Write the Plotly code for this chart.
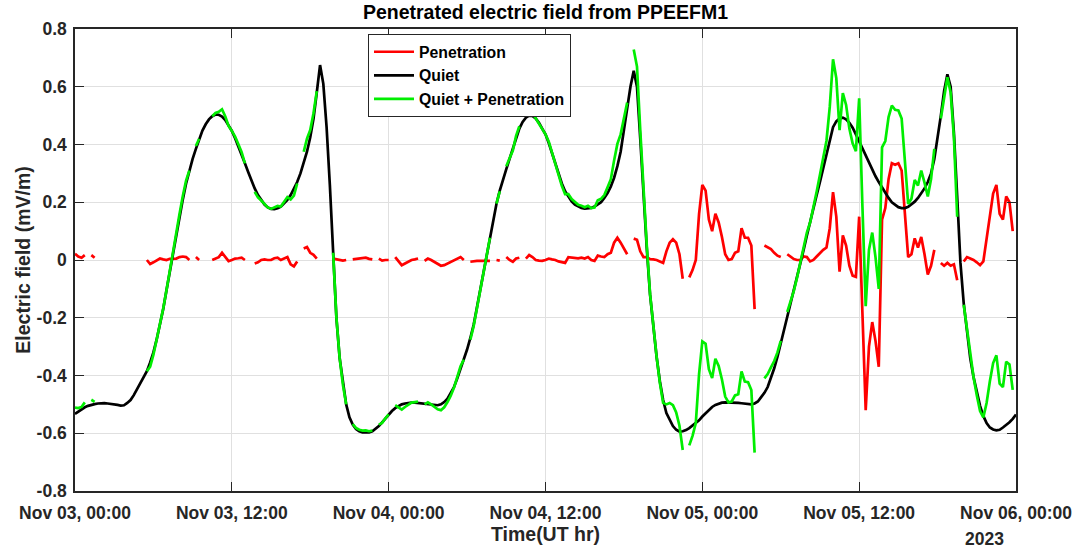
import numpy as np
import pandas as pd
import plotly.graph_objects as go

# ---------------- data ----------------
start_time = "2023-11-03 00:00"
step_hours = 0.25
# sampling grid in hours since start (0 ... 72 h)
hours = np.arange(0, 72 + step_hours / 2, step_hours)

# Quiet-time electric field (mV/m), one row = 2 hours
quiet = [
    -0.533, -0.525, -0.517, -0.510, -0.505, -0.501, -0.499, -0.497,
    -0.496, -0.496, -0.497, -0.498, -0.500, -0.502, -0.504, -0.503,
    -0.495, -0.485, -0.468, -0.448, -0.428, -0.408, -0.385, -0.355,
    -0.320, -0.275, -0.225, -0.170, -0.105, -0.040, 0.025, 0.090,
    0.150, 0.210, 0.265, 0.310, 0.350, 0.385, 0.420, 0.448,
    0.470, 0.487, 0.498, 0.504, 0.503, 0.497, 0.485, 0.468,
    0.447, 0.422, 0.395, 0.365, 0.335, 0.305, 0.275, 0.248,
    0.225, 0.206, 0.192, 0.182, 0.177, 0.176, 0.179, 0.185,
    0.195, 0.208, 0.225, 0.245, 0.270, 0.300, 0.335, 0.375,
    0.425, 0.490, 0.580, 0.675, 0.610, 0.460, 0.260, 0.020,
    -0.200, -0.340, -0.430, -0.500, -0.545, -0.570, -0.585, -0.593,
    -0.597, -0.598, -0.597, -0.593, -0.585, -0.575, -0.562, -0.548,
    -0.535, -0.523, -0.513, -0.505, -0.500, -0.497, -0.495, -0.494,
    -0.494, -0.495, -0.496, -0.497, -0.498, -0.500, -0.502, -0.503,
    -0.500, -0.492, -0.480, -0.462, -0.440, -0.410, -0.378, -0.345,
    -0.310, -0.270, -0.225, -0.165, -0.105, -0.040, 0.020, 0.080,
    0.140, 0.195, 0.240, 0.280, 0.315, 0.350, 0.385, 0.425,
    0.455, 0.478, 0.493, 0.500, 0.499, 0.490, 0.475, 0.455,
    0.435, 0.405, 0.370, 0.335, 0.298, 0.265, 0.238, 0.218,
    0.203, 0.192, 0.185, 0.180, 0.178, 0.178, 0.180, 0.185,
    0.192, 0.200, 0.215, 0.232, 0.255, 0.285, 0.325, 0.375,
    0.450, 0.525, 0.600, 0.655, 0.600, 0.420, 0.220, 0.040,
    -0.120, -0.235, -0.335, -0.420, -0.485, -0.530, -0.555, -0.575,
    -0.588, -0.594, -0.593, -0.589, -0.582, -0.574, -0.565, -0.555,
    -0.542, -0.530, -0.518, -0.509, -0.502, -0.497, -0.494, -0.493,
    -0.493, -0.493, -0.494, -0.495, -0.496, -0.498, -0.500, -0.500,
    -0.497, -0.490, -0.475, -0.460, -0.440, -0.410, -0.375, -0.335,
    -0.290, -0.245, -0.200, -0.155, -0.110, -0.060, -0.010, 0.035,
    0.085, 0.135, 0.180, 0.225, 0.270, 0.320, 0.370, 0.420,
    0.460, 0.480, 0.490, 0.493, 0.487, 0.475, 0.458, 0.435,
    0.410, 0.385, 0.360, 0.335, 0.310, 0.290, 0.270, 0.250,
    0.232, 0.215, 0.200, 0.190, 0.183, 0.180, 0.180, 0.184,
    0.192, 0.202, 0.215, 0.230, 0.248, 0.270, 0.300, 0.350,
    0.420, 0.500, 0.585, 0.643, 0.600, 0.440, 0.220, -0.010,
    -0.150, -0.250, -0.340, -0.405, -0.460, -0.505, -0.540, -0.565,
    -0.580, -0.587, -0.590, -0.588, -0.580, -0.572, -0.562, -0.550,
    -0.535,
]

# Penetration electric field (mV/m), None = data gap
penetration = [
    0.022, 0.012, 0.008, 0.017, None, 0.017, 0.008, None,
    None, None, None, None, None, None, None, None,
    None, None, None, None, None, None, 0.000, -0.014,
    -0.008, -0.002, 0.005, 0.002, 0.000, 0.004, 0.005, 0.005,
    0.010, 0.012, 0.010, 0.000, None, 0.010, 0.000, None,
    None, None, 0.000, 0.005, 0.010, 0.025, 0.012, -0.004,
    0.000, 0.005, 0.006, 0.008, 0.000, None, None, -0.012,
    -0.008, 0.000, 0.002, 0.000, 0.000, 0.006, 0.008, 0.000,
    0.005, 0.010, -0.015, -0.022, -0.005, None, 0.040, 0.045,
    0.025, 0.018, 0.005, None, 0.005, None, None, 0.005,
    0.002, 0.000, -0.002, 0.000, None, 0.002, 0.003, 0.005,
    0.006, 0.008, 0.004, 0.002, None, 0.005, -0.002, 0.000,
    0.000, None, 0.010, -0.006, -0.018, -0.012, -0.006, 0.000,
    0.002, 0.005, None, -0.003, 0.005, 0.000, -0.006, -0.014,
    -0.020, -0.018, -0.012, -0.008, -0.002, 0.004, 0.010, 0.000,
    None, -0.006, -0.004, -0.003, -0.003, -0.002, -0.003, -0.003,
    None, 0.000, -0.002, None, 0.010, 0.000, -0.006, 0.005,
    0.008, None, 0.005, 0.017, 0.010, 0.000, -0.002, -0.003,
    0.000, 0.005, 0.002, 0.000, -0.005, -0.008, -0.010, 0.010,
    0.008, 0.008, 0.006, 0.008, 0.005, 0.010, 0.000, -0.003,
    0.015, 0.012, 0.010, 0.020, 0.025, 0.060, 0.077, 0.060,
    0.040, 0.020, None, 0.074, 0.070, 0.030, 0.010, 0.010,
    0.003, 0.002, 0.000, -0.005, -0.010, 0.030, 0.060, 0.072,
    0.060, 0.020, -0.065, None, -0.060, -0.035, 0.000, 0.160,
    0.260, 0.240, 0.140, 0.100, 0.160, 0.130, 0.080, 0.020,
    0.000, 0.003, 0.025, 0.030, 0.110, 0.077, 0.077, 0.050,
    -0.170, None, None, 0.050, 0.045, 0.038, 0.025, 0.015,
    0.010, None, 0.020, 0.010, 0.003, 0.000, 0.000, 0.012,
    0.010, -0.005, 0.000, 0.012, 0.025, 0.035, 0.043, 0.110,
    0.235, 0.150, -0.040, 0.085, 0.050, -0.020, -0.054, -0.058,
    0.150, -0.200, -0.520, -0.300, -0.215, -0.280, -0.370, 0.140,
    0.180, 0.280, 0.335, 0.330, 0.335, 0.310, 0.160, 0.010,
    0.020, 0.075, 0.043, 0.080, 0.020, -0.050, -0.020, 0.035,
    None, -0.010, -0.020, -0.010, -0.020, -0.015, -0.070, None,
    -0.005, 0.010, 0.005, 0.000, -0.008, -0.018, -0.005, 0.070,
    0.160, 0.230, 0.260, 0.160, 0.140, 0.220, 0.200, 0.100,
    None,
]

x_tick_hours = [0, 12, 24, 36, 48, 60, 72]
x_tick_labels = ["Nov 03, 00:00", "Nov 03, 12:00", "Nov 04, 00:00", "Nov 04, 12:00",
                 "Nov 05, 00:00", "Nov 05, 12:00", "Nov 06, 00:00"]
y_tick_values = [-0.8, -0.6, -0.4, -0.2, 0, 0.2, 0.4, 0.6, 0.8]
y_tick_labels = ["-0.8", "-0.6", "-0.4", "-0.2", "0", "0.2", "0.4", "0.6", "0.8"]

# ---------------- derived ----------------
t0 = pd.Timestamp(start_time)
times = t0 + pd.to_timedelta(hours, unit="h")
combined = [None if p is None else q + p for q, p in zip(quiet, penetration)]
tick_times = [t0 + pd.Timedelta(hours=h) for h in x_tick_hours]

FONT = "Liberation Sans, Arial, Helvetica, sans-serif"
AX = "#262626"

fig = go.Figure()
fig.add_trace(go.Scatter(x=times, y=penetration, mode="lines", name="Penetration",
                         line=dict(color="#ff0000", width=2.7), connectgaps=False))
fig.add_trace(go.Scatter(x=times, y=quiet, mode="lines", name="Quiet",
                         line=dict(color="#000000", width=2.7)))
fig.add_trace(go.Scatter(x=times, y=combined, mode="lines", name="Quiet + Penetration",
                         line=dict(color="#00ee00", width=2.7), connectgaps=False))

axis_common = dict(
    showline=True, linecolor=AX, linewidth=1.5, mirror="ticks",
    ticks="inside", ticklen=9, tickwidth=1.2, tickcolor=AX,
    showgrid=True, gridcolor="#e0e0e0", gridwidth=1, zeroline=False,
    tickfont=dict(family=FONT, size=17.5, color=AX, weight="bold"),
)

fig.update_layout(
    width=1090, height=553,
    margin=dict(l=75, r=74, t=29, b=59),
    paper_bgcolor="white", plot_bgcolor="white",
    font=dict(family=FONT, color=AX),
    title=dict(text="Penetrated electric field from PPEEFM1",
               font=dict(family=FONT, size=19.5, color="#000000", weight="bold"),
               x=0.5, xref="paper", xanchor="center",
               y=1 - 12 / 553, yref="container", yanchor="middle"),
    xaxis=dict(type="date", range=[tick_times[0], tick_times[-1]],
               tickmode="array", tickvals=tick_times, ticktext=x_tick_labels,
               ticklabelstandoff=5,
               title=dict(text="Time(UT hr)", standoff=5,
                          font=dict(family=FONT, size=19.5, color=AX, weight="bold")),
               **axis_common),
    yaxis=dict(range=[-0.8, 0.8], tickmode="array", tickvals=y_tick_values,
               ticktext=y_tick_labels, ticklabelstandoff=3,
               title=dict(text="Electric field (mV/m)", standoff=1,
                          font=dict(family=FONT, size=19.5, color=AX, weight="bold")),
               **axis_common),
    legend=dict(x=(368 - 75) / 941, y=(494 - 34) / 465, xanchor="left", yanchor="top",
                bgcolor="white", bordercolor=AX, borderwidth=1,
                itemwidth=40, tracegroupgap=0,
                font=dict(family=FONT, size=15.8, color="#000000", weight="bold")),
    showlegend=True,
    annotations=[dict(text="2023", xref="paper", yref="paper",
                      x=(963 - 75) / 941, y=(494 - 542) / 465,
                      xanchor="left", yanchor="middle", showarrow=False,
                      font=dict(family=FONT, size=17.5, color=AX, weight="bold"))],
)

fig.write_html("out.html")
